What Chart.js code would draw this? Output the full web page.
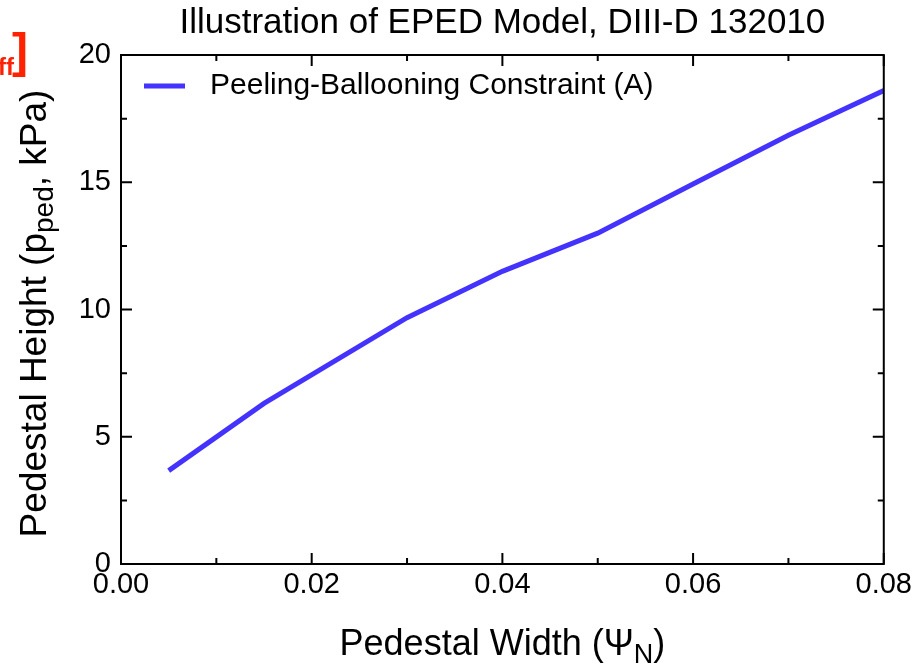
<!DOCTYPE html>
<html>
<head>
<meta charset="utf-8">
<script src="https://cdn.jsdelivr.net/npm/chart.js@4.4.1/dist/chart.umd.min.js"></script>
<style>
  html, body { margin: 0; padding: 0; background: #fff; }
  #wrap { width: 916px; height: 667px; }
</style>
</head>
<body>
<div id="wrap"><canvas id="mainChart" width="916" height="667"></canvas></div>
<script>
const pedWidth = [0.005, 0.015, 0.03, 0.04, 0.05, 0.06, 0.07, 0.08];
const pedHeight = [3.67, 6.31, 9.68, 11.5, 13.0, 14.93, 16.85, 18.6];
const xTicks = [0, 0.02, 0.04, 0.06, 0.08];
const xMinorTicks = [0.01, 0.03, 0.05, 0.07];
const yTicks = [0, 5, 10, 15, 20];
const yMinorTicks = [2.5, 7.5, 12.5, 17.5];
const seriesLabel = 'Peeling-Ballooning Constraint (A)';
const titleText = 'Illustration of EPED Model, DIII-D 132010';

const FONT = '"Liberation Sans", Arial, Helvetica, sans-serif';
const LINE_COLOR = '#4433ff';

// draws frame, inward ticks, titles, legend
const decorPlugin = {
  id: 'decor',
  afterDraw(chart) {
    const ctx = chart.ctx;
    const a = chart.chartArea;
    const xs = chart.scales.x, ys = chart.scales.y;
    ctx.save();
    ctx.strokeStyle = '#000';
    ctx.lineWidth = 2;
    ctx.strokeRect(a.left, a.top, a.right - a.left, a.bottom - a.top);

    ctx.beginPath();
    const tick = (x1, y1, x2, y2) => { ctx.moveTo(x1, y1); ctx.lineTo(x2, y2); };
    xTicks.forEach(v => { const p = xs.getPixelForValue(v); tick(p, a.bottom, p, a.bottom - 11); tick(p, a.top, p, a.top + 11); });
    xMinorTicks.forEach(v => { const p = xs.getPixelForValue(v); tick(p, a.bottom, p, a.bottom - 6); tick(p, a.top, p, a.top + 6); });
    yTicks.forEach(v => { const p = ys.getPixelForValue(v); tick(a.left, p, a.left + 11, p); tick(a.right, p, a.right - 11, p); });
    yMinorTicks.forEach(v => { const p = ys.getPixelForValue(v); tick(a.left, p, a.left + 6, p); tick(a.right, p, a.right - 6, p); });
    ctx.stroke();

    ctx.fillStyle = '#000';
    ctx.textBaseline = 'alphabetic';

    // title
    ctx.font = '35px ' + FONT;
    ctx.textAlign = 'center';
    ctx.fillText(titleText, (a.left + a.right) / 2, 33);

    // x axis title with subscript
    const xt1 = 'Pedestal Width (\u03A8', xt2 = 'N', xt3 = ')';
    ctx.font = '36px ' + FONT;
    const w1 = ctx.measureText(xt1).width, w3 = ctx.measureText(xt3).width;
    ctx.font = '27px ' + FONT;
    const w2 = ctx.measureText(xt2).width;
    let x0 = (a.left + a.right) / 2 - (w1 + w2 + w3) / 2;
    const xb = 655;
    ctx.textAlign = 'left';
    ctx.font = '36px ' + FONT;
    ctx.fillText(xt1, x0, xb);
    ctx.font = '27px ' + FONT;
    ctx.fillText(xt2, x0 + w1, xb + 8);
    ctx.font = '36px ' + FONT;
    ctx.fillText(xt3, x0 + w1 + w2, xb);

    // y axis title with subscript, rotated
    const yt1 = 'Pedestal Height (p', yt2 = 'ped', yt3 = ', kPa)';
    ctx.font = '37px ' + FONT;
    const v1 = ctx.measureText(yt1).width, v3 = ctx.measureText(yt3).width;
    ctx.font = '28px ' + FONT;
    const v2 = ctx.measureText(yt2).width;
    ctx.translate(46, (a.top + a.bottom) / 2 + 4);
    ctx.rotate(-Math.PI / 2);
    let y0 = -(v1 + v2 + v3) / 2;
    ctx.font = '37px ' + FONT;
    ctx.fillText(yt1, y0, 0);
    ctx.font = '28px ' + FONT;
    ctx.fillText(yt2, y0 + v1, 7);
    ctx.font = '37px ' + FONT;
    ctx.fillText(yt3, y0 + v1 + v2, 0);
    ctx.setTransform(1, 0, 0, 1, 0, 0);

    // legend
    ctx.strokeStyle = LINE_COLOR;
    ctx.lineWidth = 5;
    ctx.beginPath();
    ctx.moveTo(144, 86);
    ctx.lineTo(185, 86);
    ctx.stroke();
    ctx.fillStyle = '#000';
    ctx.font = '30px ' + FONT;
    ctx.textAlign = 'left';
    ctx.fillText(seriesLabel, 210, 94);

    // clipped red fragment at left edge
    ctx.fillStyle = '#ff2200';
    ctx.font = 'bold 24px "Liberation Sans Narrow", ' + FONT;
    ctx.textAlign = 'right';
    ctx.fillText('eff', 14, 75);
    ctx.font = 'bold 48px "Liberation Sans Narrow", ' + FONT;
    ctx.textAlign = 'left';
    ctx.fillText(']', 12, 67);
    ctx.restore();
  }
};

const ctx = document.getElementById('mainChart').getContext('2d');
new Chart(ctx, {
  type: 'line',
  data: {
    datasets: [{
      label: seriesLabel,
      data: pedWidth.map((x, i) => ({ x, y: pedHeight[i] })),
      borderColor: LINE_COLOR,
      borderWidth: 5,
      pointRadius: 0,
      tension: 0,
      fill: false
    }]
  },
  options: {
    responsive: false,
    animation: false,
    layout: { padding: { top: 55, right: 32, left: 0, bottom: 0 } },
    plugins: { legend: { display: false }, title: { display: false }, tooltip: { enabled: false } },
    scales: {
      x: {
        type: 'linear', min: 0, max: 0.08,
        afterBuildTicks: s => { s.ticks = xTicks.map(v => ({ value: v })); },
        afterFit: s => { s.height = 103; },
        grid: { display: false, drawTicks: false },
        border: { display: false },
        ticks: { color: '#000', font: { family: FONT, size: 29 }, padding: 4, maxRotation: 0, callback: v => Number(v).toFixed(2) }
      },
      y: {
        type: 'linear', min: 0, max: 20,
        afterBuildTicks: s => { s.ticks = yTicks.map(v => ({ value: v })); },
        afterFit: s => { s.width = 121; },
        grid: { display: false, drawTicks: false },
        border: { display: false },
        ticks: { color: '#000', font: { family: FONT, size: 29 }, padding: 10, callback: v => String(v) }
      }
    }
  },
  plugins: [decorPlugin]
});
</script>
</body>
</html>
